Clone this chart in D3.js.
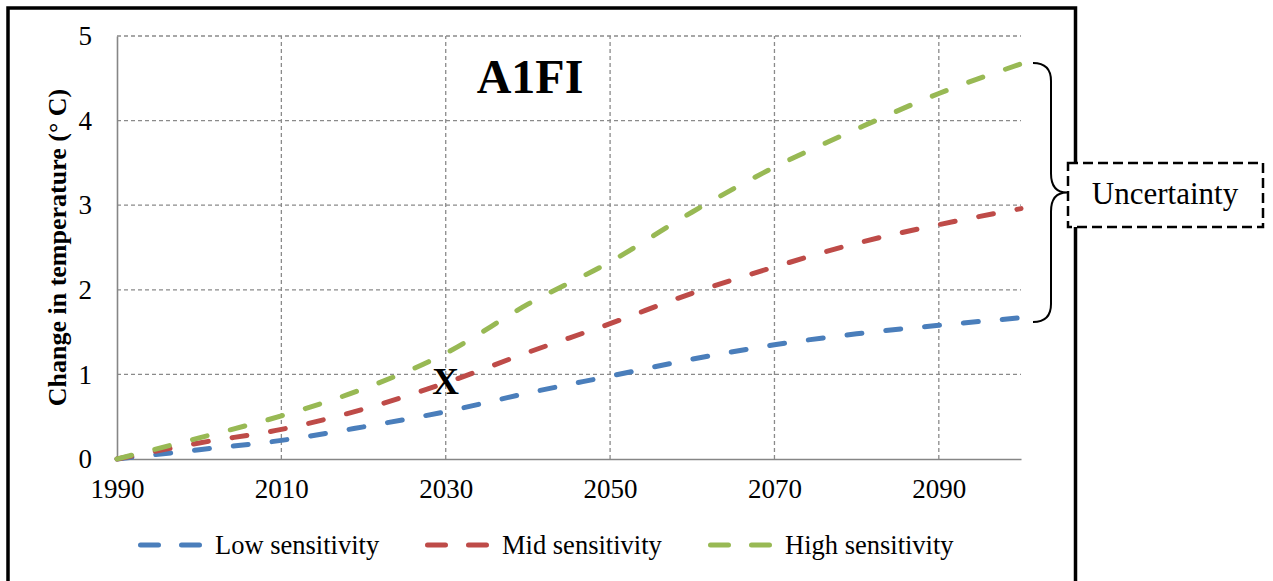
<!DOCTYPE html>
<html>
<head>
<meta charset="utf-8">
<script src="https://cdn.jsdelivr.net/npm/d3@7"></script>
<style>
  html, body { margin: 0; padding: 0; background: #fff; }
  svg { display: block; }
  text { font-family: "Liberation Serif", "Times New Roman", serif; fill: #000; }
</style>
</head>
<body>
<svg id="chart" width="1273" height="581"></svg>
<script>
// ---- data ----
const years = [1990, 2000, 2010, 2020, 2030, 2040, 2050, 2060, 2070, 2080, 2090, 2100];
const lowSensitivity  = [0, 0.11, 0.22, 0.38, 0.56, 0.78, 0.98, 1.18, 1.35, 1.48, 1.58, 1.67];
const midSensitivity  = [0, 0.19, 0.35, 0.59, 0.90, 1.26, 1.60, 1.96, 2.27, 2.55, 2.77, 2.96];
const highSensitivity = [0, 0.25, 0.51, 0.83, 1.25, 1.83, 2.33, 2.92, 3.45, 3.90, 4.32, 4.67];
const seriesNames = ["Low sensitivity", "Mid sensitivity", "High sensitivity"];
const seriesColors = ["#4A7EBB", "#BE4B48", "#98B954"];
const xTickLabels = [1990, 2010, 2030, 2050, 2070, 2090];
const yTickLabels = [0, 1, 2, 3, 4, 5];
const chartTitle = "A1FI";
const yAxisTitle = "Change in temperature (° C)";
const markerYear = 2030, markerText = "X";
const uncertaintyText = "Uncertainty";

const series = [lowSensitivity, midSensitivity, highSensitivity].map((vals, i) => ({
  name: seriesNames[i], color: seriesColors[i],
  values: years.map((y, j) => ({ year: y, value: vals[j] }))
}));

const svg = d3.select("#chart");

// outer frame
svg.append("rect").attr("x", 8).attr("y", 8).attr("width", 1067.5).attr("height", 640)
  .attr("fill", "none").attr("stroke", "#000").attr("stroke-width", 3.5);

const x = d3.scaleLinear().domain([1990, 2100]).range([117, 1021]);
const y = d3.scaleLinear().domain([0, 5]).range([459, 36]);

const gridColor = "#8a8a8a";

// horizontal grid
svg.append("g").selectAll("line").data(yTickLabels.filter(d => d > 0)).join("line")
  .attr("x1", x(1990)).attr("x2", x(2100))
  .attr("y1", d => y(d)).attr("y2", d => y(d))
  .attr("stroke", gridColor).attr("stroke-width", 1.3).attr("stroke-dasharray", "4,3");

// vertical grid
svg.append("g").selectAll("line").data(xTickLabels.filter(d => d > 1990)).join("line")
  .attr("x1", d => x(d)).attr("x2", d => x(d))
  .attr("y1", y(0)).attr("y2", y(5))
  .attr("stroke", gridColor).attr("stroke-width", 1.3).attr("stroke-dasharray", "4,3");

// axes
const xAxis = d3.axisBottom(x).tickValues(xTickLabels).tickSize(0).tickPadding(10).tickFormat(d3.format("d"));
const gx = svg.append("g").attr("transform", `translate(0,${y(0)})`).call(xAxis);
gx.select(".domain").attr("stroke", "#868686").attr("stroke-width", 1.6);
gx.selectAll("text").attr("font-size", 27).attr("fill", "#000")
  .attr("y", 39).attr("dy", 0);

const yAxis = d3.axisLeft(y).tickValues(yTickLabels).tickSize(0).tickPadding(25).tickFormat(d3.format("d"));
const gy = svg.append("g").attr("transform", `translate(${x(1990)},0)`).call(yAxis);
gy.select(".domain").attr("stroke", "#868686").attr("stroke-width", 1.6);
gy.selectAll("text").attr("font-size", 27).attr("fill", "#000");

// y axis title
svg.append("text")
  .attr("transform", `translate(66,${(y(0) + y(5)) / 2}) rotate(-90)`)
  .attr("text-anchor", "middle")
  .attr("font-size", 26).attr("font-weight", "bold")
  .text(yAxisTitle);

// lines
const line = d3.line().x(d => x(d.year)).y(d => y(d.value)).curve(d3.curveMonotoneX);
svg.append("g").selectAll("path").data(series).join("path")
  .attr("d", d => line(d.values))
  .attr("fill", "none").attr("stroke", d => d.color)
  .attr("stroke-width", 5).attr("stroke-linecap", "round")
  .attr("stroke-dasharray", "15,24");

// chart title
svg.append("text").attr("x", 530).attr("y", 93).attr("text-anchor", "middle")
  .attr("font-size", 48).attr("font-weight", "bold").text(chartTitle);

// X marker
svg.append("text").attr("x", x(markerYear)).attr("y", 394).attr("text-anchor", "middle")
  .attr("font-size", 37).attr("font-weight", "bold").text(markerText);

// brace
const bTop = y(4.68), bBot = y(1.62), bMid = (bTop + bBot) / 2;
const bx0 = x(2100) + 12, bx1 = x(2100) + 30, bx2 = x(2100) + 46;
svg.append("path")
  .attr("d", `M${bx0},${bTop} Q${bx1},${bTop} ${bx1},${bTop + 18} L${bx1},${bMid - 19} Q${bx1},${bMid} ${bx2},${bMid}
              Q${bx1},${bMid} ${bx1},${bMid + 19} L${bx1},${bBot - 18} Q${bx1},${bBot} ${bx0},${bBot}`)
  .attr("fill", "none").attr("stroke", "#000").attr("stroke-width", 2);

// uncertainty box
svg.append("rect").attr("x", 1068).attr("y", 163).attr("width", 195).attr("height", 64)
  .attr("fill", "#fff").attr("stroke", "#000").attr("stroke-width", 2.5).attr("stroke-dasharray", "10,5");
svg.append("text").attr("x", 1165).attr("y", 204).attr("text-anchor", "middle")
  .attr("font-size", 31).text(uncertaintyText);

// legend
const legendX = [138, 425, 708];
const lg = svg.append("g").selectAll("g").data(series).join("g")
  .attr("transform", (d, i) => `translate(${legendX[i]},545)`);
lg.append("line").attr("x1", 0).attr("x2", 64).attr("y1", 0).attr("y2", 0)
  .attr("stroke", d => d.color).attr("stroke-width", 5).attr("stroke-linecap", "round")
  .attr("stroke-dasharray", "18,23").attr("transform", "translate(2.5,0)");
lg.append("text").attr("x", 77).attr("y", 9).attr("font-size", 26.5).text(d => d.name);
</script>
</body>
</html>
